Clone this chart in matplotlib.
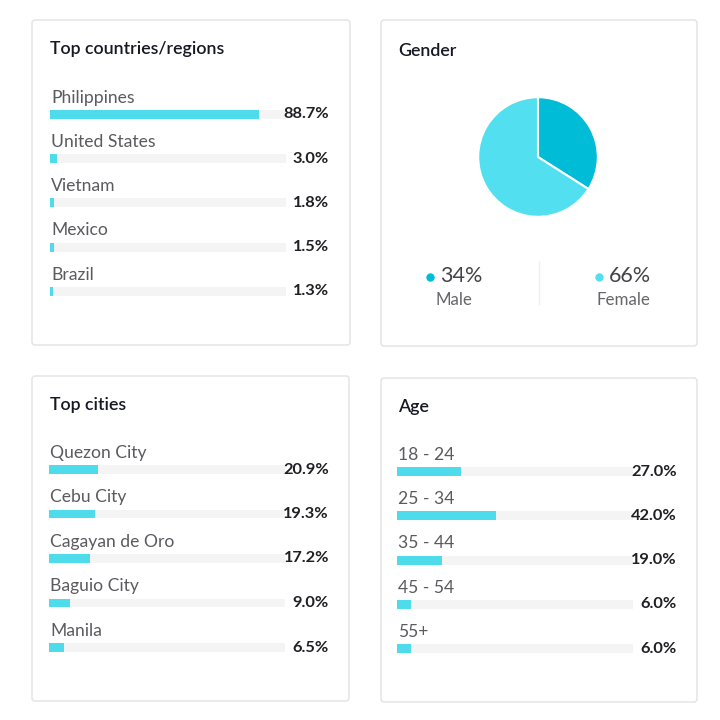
import matplotlib
matplotlib.use("Agg")
import matplotlib.pyplot as plt
from matplotlib.patches import FancyBboxPatch

plt.rcParams['font.family'] = ['Lato', 'DejaVu Sans']

# data
countries = ["Philippines", "United States", "Vietnam", "Mexico", "Brazil"]
country_pct = [88.7, 3.0, 1.8, 1.5, 1.3]

cities = ["Quezon City", "Cebu City", "Cagayan de Oro", "Baguio City", "Manila"]
city_pct = [20.9, 19.3, 17.2, 9.0, 6.5]

ages = ["18 - 24", "25 - 34", "35 - 44", "45 - 54", "55+"]
age_pct = [27.0, 42.0, 19.0, 6.0, 6.0]

genders = ["Male", "Female"]
gender_pct = [34, 66]

BAR = "#4EDCEC"
TRACK = "#F4F4F5"
MALE = "#00BCD6"
FEMALE = "#52E0F0"
TITLE = "#161823"
LABEL = "#5a5a5f"
VALUE = "#1f1f24"

W = H = 720
fig = plt.figure(figsize=(7.2, 7.2), dpi=100)
fig.patch.set_facecolor("white")


def px_axes(left, top, width, height, **kw):
    return fig.add_axes([left / W, 1 - (top + height) / H, width / W, height / H], **kw)


bg = px_axes(0, 0, W, H)
bg.set_xlim(0, W)
bg.set_ylim(H, 0)
bg.axis("off")

panels = [(32, 20, 318, 325), (381, 20, 316, 326),
          (32, 376, 317, 325), (381, 378, 316, 324)]
for x, y, w, h in panels:
    bg.add_patch(FancyBboxPatch((x, y), w, h, boxstyle="round,pad=0,rounding_size=3",
                                facecolor="white", edgecolor="#E2E2E4", linewidth=1.0))

titles = [("Top countries/regions", 50, 49), ("Gender", 398, 51),
          ("Top cities", 50, 405), ("Age", 398, 407)]
for t, x, y in titles:
    bg.text(x, y, t, fontsize=12.8, color=TITLE, fontweight="semibold", ha="left", va="center")


def bar_list(left, first_bar_y, value_right, names, vals, spacing=44.2):
    scale = 2.36  # px per percent
    top = first_bar_y - 0.8 * spacing
    height = 5.4 * spacing
    ax = px_axes(left, top, 100 * scale, height)
    ax.set_xlim(0, 100)
    ax.set_ylim(4.6, -0.8)
    ax.axis("off")
    rows = list(range(len(names)))
    ax.barh(rows, [100] * len(rows), height=0.2, color=TRACK, linewidth=0)
    ax.barh(rows, vals, height=0.2, color=BAR, linewidth=0)
    vx = (value_right - left) / scale
    for i, (n, v) in enumerate(zip(names, vals)):
        ax.text(0.5, i - 0.38, n, fontsize=12.6, color=LABEL, ha="left", va="center")
        ax.text(vx, i, f"{v:.1f}%", fontsize=11.8, color=VALUE, fontweight="bold",
                ha="right", va="center", clip_on=False)
    return ax


bar_list(50, 114.5, 329, countries, country_pct)
bar_list(49, 469.5, 329, cities, city_pct, spacing=44.5)
bar_list(397, 471.5, 677, ages, age_pct, spacing=44.3)

# gender pie
r = 61
pax = px_axes(538 - r, 157 - r, 2 * r, 2 * r)
pax.pie(gender_pct, colors=[MALE, FEMALE], startangle=90, counterclock=False,
        wedgeprops=dict(edgecolor="white", linewidth=1.5))
pax.set_xlim(-1.02, 1.02)
pax.set_ylim(-1.02, 1.02)
pax.axis("off")

for (g, p, c, cx) in zip(genders, gender_pct, [MALE, FEMALE], [454, 623]):
    bg.plot(cx - 24, 277, "o", markersize=5, color=c)
    bg.text(cx - 14, 276, f"{p}%", fontsize=15.5, color="#444448", ha="left", va="center")
    bg.text(cx, 300, g, fontsize=12.2, color="#66666b", ha="center", va="center")
bg.plot([539, 539], [262, 304], color="#EEEEEF", linewidth=1)

fig.savefig("out.png", dpi=100, facecolor="white")
